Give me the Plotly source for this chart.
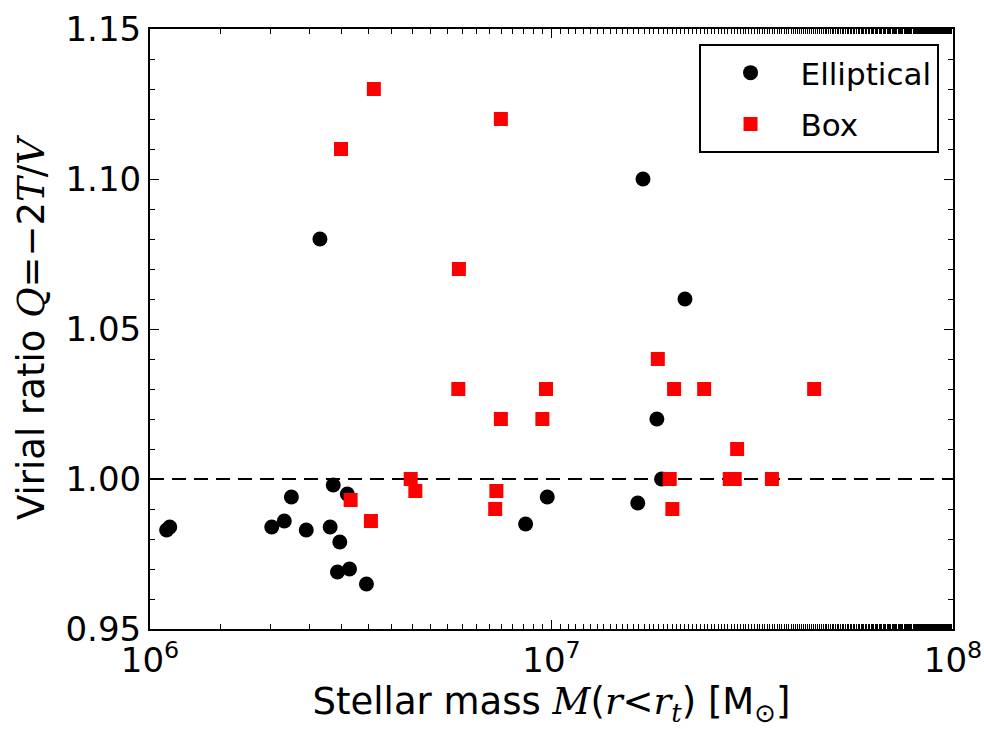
import plotly.graph_objects as go

# Elliptical haloes: stellar mass (Msun) and virial ratio Q
ell_mass = [1.10e6, 1.12e6, 2.01e6, 2.16e6, 2.25e6, 2.45e6, 2.65e6, 2.86e6, 2.81e6,
            2.97e6, 2.93e6, 3.10e6, 3.14e6, 3.46e6, 8.62e6, 9.76e6, 1.64e7, 1.69e7,
            1.83e7, 1.88e7, 2.15e7]
ell_q = [0.983, 0.984, 0.984, 0.986, 0.994, 0.983, 1.080, 0.998, 0.984,
         0.979, 0.969, 0.995, 0.970, 0.965, 0.985, 0.994, 0.992, 1.100,
         1.020, 1.000, 1.060]

# Box haloes
box_mass = [2.99e6, 3.16e6, 3.55e6, 3.61e6, 4.46e6, 4.58e6, 5.86e6, 5.88e6, 7.24e6,
            7.29e6, 7.48e6, 7.48e6, 9.49e6, 9.69e6, 1.84e7, 1.97e7, 2.00e7, 2.02e7,
            2.40e7, 2.78e7, 2.86e7, 2.90e7, 3.54e7, 4.51e7]
box_q = [1.110, 0.993, 0.986, 1.130, 1.000, 0.996, 1.030, 1.070, 0.990,
         0.996, 1.120, 1.020, 1.020, 1.030, 1.040, 1.000, 0.990, 1.030,
         1.030, 1.000, 1.000, 1.010, 1.000, 1.030]

x_ticks = [1e6, 1e7, 1e8]
x_tick_text = ["10<sup>6</sup>", "10<sup>7</sup>", "10<sup>8</sup>"]
y_ticks = [0.95, 1.00, 1.05, 1.10, 1.15]
y_tick_text = ["0.95", "1.00", "1.05", "1.10", "1.15"]

FONT = "DejaVu Sans"
MATH = "DejaVu Serif"

fig = go.Figure()
fig.add_trace(go.Scatter(
    x=ell_mass, y=ell_q, mode="markers", name="Elliptical", legendgroup="ell",
    marker=dict(symbol="circle", size=15, color="black", line=dict(width=0)),
))
fig.add_trace(go.Scatter(
    x=box_mass, y=box_q, mode="markers", name="Box", legendgroup="box",
    marker=dict(symbol="square", size=14, color="#ff0000", line=dict(width=0)),
))

# Virial equilibrium reference line
fig.add_shape(type="line", xref="paper", x0=0, x1=1, yref="y", y0=1.0, y1=1.0,
              line=dict(color="black", width=2, dash="14px,8px"), layer="below")


def m(s):
    return f"<span style='font-family:{MATH}'><i>{s}</i></span>"


fig.update_layout(
    width=984, height=729,
    margin=dict(l=150, r=31, t=29, b=100),
    paper_bgcolor="white", plot_bgcolor="white",
    font=dict(family=FONT, size=34, color="black"),
    showlegend=True,
    legend=dict(
        x=0.982, y=0.975, xanchor="right", yanchor="top",
        bordercolor="black", borderwidth=2, bgcolor="white",
        font=dict(size=31), itemwidth=90, tracegroupgap=8,
    ),
    xaxis=dict(
        type="log", range=[6, 8], automargin=False,
        tickvals=x_ticks, ticktext=x_tick_text, tickfont=dict(size=34),
        ticks="inside", ticklen=9, tickwidth=1, tickcolor="black",
        minor=dict(ticks="inside", ticklen=5, tickwidth=1, tickcolor="black",
                   showgrid=False),
        showline=True, linecolor="black", linewidth=2, mirror="allticks",
        showgrid=False, zeroline=False,
        title=dict(
            text="Stellar mass " + m("M") + "(" + m("r") + "<" + m("r")
                 + "<sub>" + m("t") + "</sub>) [M<sub>⊙</sub>]",
            font=dict(size=37), standoff=8,
        ),
    ),
    yaxis=dict(
        range=[0.95, 1.15], automargin=False,
        tickvals=y_ticks, ticktext=y_tick_text, tickfont=dict(size=34),
        ticks="inside", ticklen=9, tickwidth=1, tickcolor="black",
        minor=dict(ticks="inside", ticklen=5, tickwidth=1, tickcolor="black",
                   dtick=0.01, showgrid=False),
        showline=True, linecolor="black", linewidth=2, mirror="allticks",
        showgrid=False, zeroline=False,
        title=dict(
            text="Virial ratio " + m("Q") + "=−2" + m("T") + "/" + m("V"),
            font=dict(size=37), standoff=10,
        ),
    ),
)

fig.write_html("out.html")
